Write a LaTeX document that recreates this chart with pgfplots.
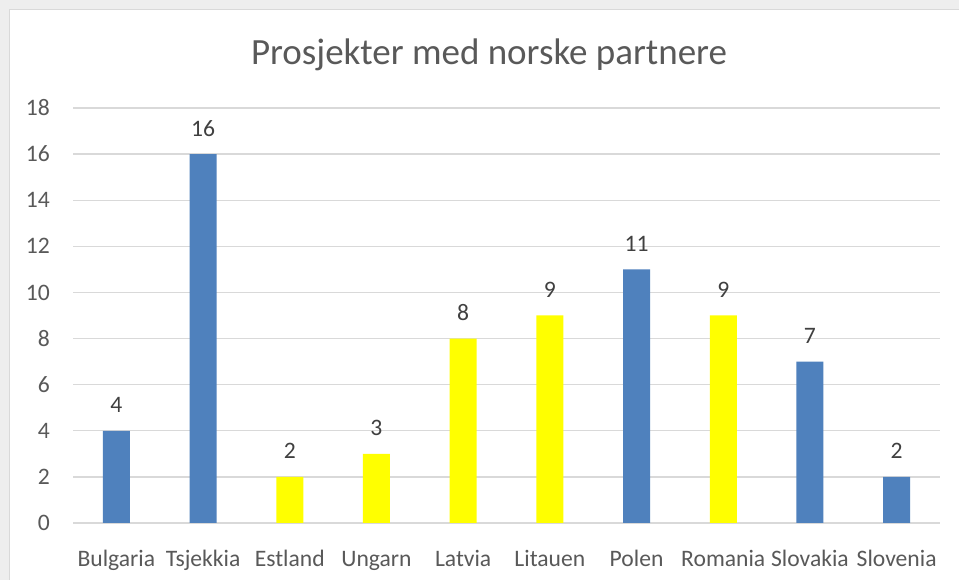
\documentclass[border=0pt]{standalone}
\usepackage{fontspec}
\setmainfont{Carlito}
\usepackage{pgfplots}
\pgfplotsset{compat=1.18}
\definecolor{barblue}{HTML}{4F81BD}
\definecolor{baryellow}{HTML}{FFFF00}
\definecolor{gridgray}{HTML}{D9D9D9}
\definecolor{txtgray}{HTML}{595959}
\definecolor{lblgray}{HTML}{404040}
\definecolor{bggray}{HTML}{EEEEEE}

\begin{document}
\begin{tikzpicture}
\useasboundingbox (0bp,0bp) rectangle (959bp,580bp);
\fill[bggray] (0bp,0bp) rectangle (959bp,580bp);
\fill[white,draw=gridgray,line width=1.5bp] (9.5bp,-5bp) rectangle (965bp,570.5bp);
\node[anchor=base,text=txtgray,font=\fontsize{37bp}{44bp}\selectfont]
  at (489bp,515bp) {Prosjekter med norske partnere};
\begin{axis}[
    at={(73bp,57bp)}, anchor=south west,
    width=867bp, height=415bp, scale only axis,
    ybar, bar width=27bp, bar shift=0pt,
    xmin=-0.5, xmax=9.5, ymin=0, ymax=18,
    enlargelimits=false,
    xtick={0,...,9},
    xticklabels={Bulgaria,Tsjekkia,Estland,Ungarn,Latvia,Litauen,Polen,Romania,Slovakia,Slovenia},
    ytick={0,2,...,18},
    ymajorgrids,
    grid style={gridgray,line width=1.3bp},
    axis line style={draw=none},
    tick style={draw=none},
    /pgf/number format/assume math mode=true,
    ticklabel style={text=txtgray,font=\fontsize{23.6bp}{28bp}\selectfont},
    xticklabel style={anchor=base,yshift=-39bp,inner sep=0pt},
    yticklabel style={anchor=east,xshift=-23bp,inner sep=0pt},
    nodes near coords,
    every node near coord/.append style={anchor=base,yshift=18bp,inner sep=0pt,
      text=lblgray,font=\fontsize{23.6bp}{28bp}\selectfont},
]
\addplot[fill=barblue,draw=none] coordinates {(0,4) (1,16) (6,11) (8,7) (9,2)};
\addplot[fill=baryellow,draw=none] coordinates {(2,2) (3,3) (4,8) (5,9) (7,9)};
\end{axis}
\end{tikzpicture}
\end{document}
